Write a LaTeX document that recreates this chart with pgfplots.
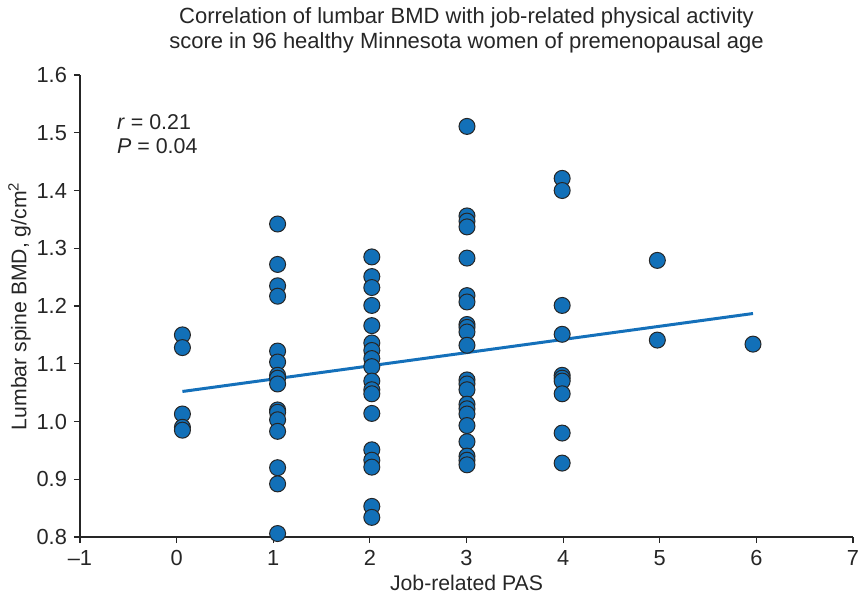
\documentclass[border=0pt]{standalone}
\usepackage{pgfplots}
\pgfplotsset{compat=1.18}
\usepackage{fontspec}
\setmainfont{Liberation Sans}
\definecolor{ptblue}{RGB}{18,112,184}
\definecolor{lnblue}{RGB}{20,112,186}
\begin{document}
\begin{tikzpicture}
\path[use as bounding box] (-40pt,-29pt) rectangle (390pt,268.5pt);
\begin{axis}[
  scale only axis, width=386.5pt, height=231pt,
  anchor=south west, at={(0,0)},
  xmin=-1, xmax=7, ymin=0.8, ymax=1.6,
  axis x line=bottom, axis y line=left,
  axis line style={-, line width=0.6pt, black!85},
  tick align=outside, major tick length=3pt,
  tick style={line width=0.6pt, black!85},
  xtick={-1,0,1,2,3,4,5,6,7},
  xticklabels={\textendash1,0,1,2,3,4,5,6,7},
  ytick={0.8,0.9,1.0,1.1,1.2,1.3,1.4,1.5,1.6},
  /pgf/number format/assume math mode=true,
  yticklabel style={/pgf/number format/.cd, fixed, fixed zerofill, precision=1},
  ticklabel style={font=\fontsize{10.9}{12}\selectfont, text=black!85},
  xlabel={Job-related PAS},
  ylabel={Lumbar spine BMD, g/cm\textsuperscript{2}},
  label style={font=\fontsize{10.6}{12}\selectfont, text=black!85},
  xlabel style={yshift=2pt},
  ylabel style={yshift=-4pt},
  clip=false,
]
\addplot[lnblue, line width=1.5pt] coordinates {(0.06,1.052) (5.965,1.187)};
\addplot[only marks, mark=*, mark size=4pt, mark options={fill=ptblue, draw=black!85, line width=0.5pt}] table {
x y
0.06 1.150
0.06 1.128
0.06 1.013
0.06 0.990
0.06 0.985
1.045 1.342
1.045 1.272
1.045 1.235
1.045 1.217
1.045 1.122
1.045 1.103
1.045 1.080
1.045 1.075
1.045 1.065
1.045 1.020
1.045 1.016
1.045 1.003
1.045 0.983
1.045 0.920
1.045 0.892
1.045 0.806
2.02 1.285
2.02 1.251
2.02 1.232
2.02 1.201
2.02 1.166
2.02 1.136
2.02 1.123
2.02 1.109
2.02 1.095
2.02 1.070
2.02 1.055
2.02 1.048
2.02 1.014
2.02 0.951
2.02 0.933
2.02 0.921
2.02 0.853
2.02 0.834
3.005 1.511
3.005 1.356
3.005 1.347
3.005 1.337
3.005 1.283
3.005 1.218
3.005 1.207
3.005 1.168
3.005 1.163
3.005 1.155
3.005 1.132
3.005 1.072
3.005 1.065
3.005 1.055
3.005 1.030
3.005 1.022
3.005 1.013
3.005 0.993
3.005 0.965
3.005 0.940
3.005 0.933
3.005 0.925
3.99 1.421
3.99 1.400
3.99 1.201
3.99 1.151
3.99 1.080
3.99 1.075
3.99 1.070
3.99 1.048
3.99 0.980
3.99 0.928
4.975 1.279
4.975 1.141
5.965 1.134
};
\node[anchor=west, inner sep=0pt, font=\fontsize{10.7}{12}\selectfont, text=black!85] at (axis cs:-0.62,1.519) {\textit{r} = 0.21};
\node[anchor=west, inner sep=0pt, font=\fontsize{10.7}{12}\selectfont, text=black!85] at (axis cs:-0.62,1.477) {\textit{P} = 0.04};
\node[anchor=south, inner sep=0pt, align=center, font=\fontsize{11}{12.3}\selectfont, text=black!85] at ([yshift=11pt]rel axis cs:0.5,1) {Correlation of lumbar BMD with job-related physical activity\\score in 96 healthy Minnesota women of premenopausal age};
\end{axis}
\end{tikzpicture}
\end{document}
